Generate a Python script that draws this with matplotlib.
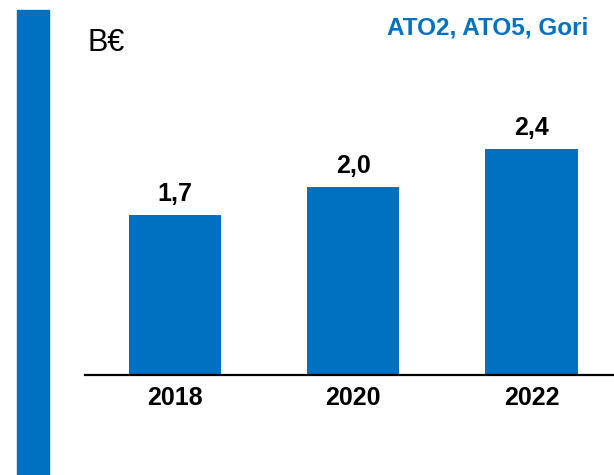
import matplotlib
matplotlib.use("Agg")
import matplotlib.pyplot as plt
from matplotlib.patches import Rectangle

plt.rcParams["font.family"] = ["Liberation Sans", "DejaVu Sans"]

# ── data ──────────────────────────────────────────────────────────────────────
years = ["2018", "2020", "2022"]
values = [1.7, 2.0, 2.4]
value_labels = ["1,7", "2,0", "2,4"]

BLUE = "#0070C0"
W, H = 614, 475

fig = plt.figure(figsize=(W / 100, H / 100), dpi=100)

# decorative bar on the left
fig.patches.append(Rectangle((17 / W, 0), 32 / W, (H - 10) / H,
                             transform=fig.transFigure, color=BLUE, zorder=0))

# axes: left edge at x=85px, baseline at y=375px, top at y=10px
ax = fig.add_axes([85 / W, (H - 375) / H, (W - 85) / W, 365 / H])
x = range(len(years))
ax.bar(x, values, width=0.517, color=BLUE)
ax.set_xlim(-0.506, 2.463)
ax.set_ylim(0, 365 / 94)

for xi, v, lab in zip(x, values, value_labels):
    ax.annotate(lab, (xi, v), xytext=(0, 14), textcoords="offset pixels",
                ha="center", va="baseline", fontsize=18, fontweight="bold")

ax.set_xticks(list(x))
ax.set_xticklabels(years, fontsize=18, fontweight="bold")
ax.tick_params(axis="x", length=0, pad=8)
ax.set_yticks([])
for s in ("left", "right", "top"):
    ax.spines[s].set_visible(False)
ax.spines["bottom"].set_linewidth(1.6)

fig.text(88 / W, 1 - 51 / H, "B€", fontsize=22, va="baseline", ha="left")
fig.text(588 / W, 1 - 34 / H, "ATO2, ATO5, Gori", fontsize=17.5,
         fontweight="bold", color=BLUE, va="baseline", ha="right")

fig.savefig("out.png", dpi=100)
